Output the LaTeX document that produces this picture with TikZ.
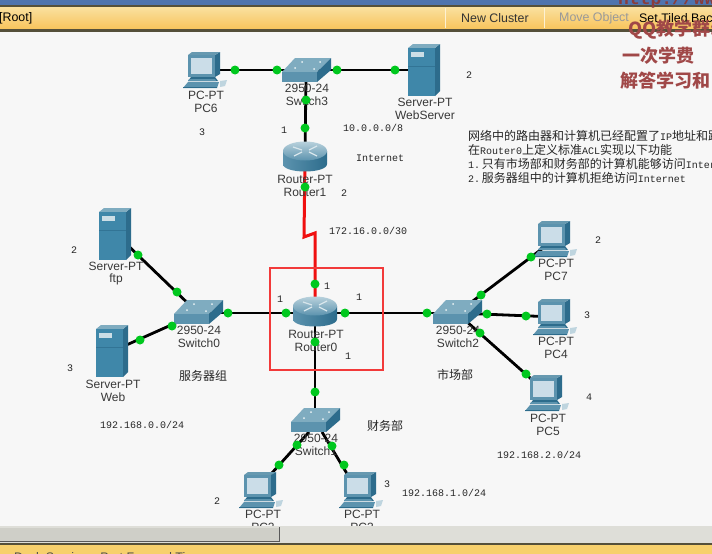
\documentclass[tikz,border=0pt]{standalone}
\usepackage{fontspec}
\setmainfont{Liberation Mono}
\newfontfamily\devf{Liberation Sans}
\newfontfamily\cjk{Noto Sans CJK SC}
\definecolor{canvasbg}{HTML}{F7F7F7}
\definecolor{barblue}{HTML}{4F74AE}
\definecolor{baryel}{HTML}{F7D06C}
\definecolor{barline}{HTML}{55503A}
\definecolor{trackc}{HTML}{DEDED8}
\definecolor{thumbc}{HTML}{CFCFC8}
\definecolor{fronte}{HTML}{5C93AE}
\definecolor{topf}{HTML}{7FACC0}
\definecolor{sidee}{HTML}{2D6C8C}
\definecolor{scr}{HTML}{CBDDE8}
\definecolor{srv}{HTML}{3F87A9}
\definecolor{dotg}{HTML}{00C81E}
\definecolor{redl}{HTML}{F01010}
\definecolor{boxr}{HTML}{F23A3A}
\definecolor{wm}{HTML}{A04848}
\tikzset{
  x=1pt,y=-1pt,
  anchorpt/.style={inner sep=0pt,minimum size=1pt,outer sep=0pt},
  lnk/.style={line width=2.8pt,black},
  serial/.style={line width=3pt,redl,line join=miter},
  portdot/.style={circle,fill=dotg,inner sep=0pt,minimum size=9pt},
  devlabel/.style={font=\devf\fontsize{12}{13}\selectfont,text=black!78,inner sep=0pt,align=center},
  note/.style={font=\fontsize{10}{12}\selectfont,text=black!85,inner sep=0pt},
  cjknote/.style={font=\cjk\fontsize{12}{12}\selectfont,text=black!85,inner sep=0pt},
  taskline/.style={font=\fontsize{10}{14}\selectfont,text=black!85,inner sep=0pt,anchor=west},
  barlabel/.style={font=\devf\fontsize{12.4}{13}\selectfont,inner sep=0pt},
  wmark/.style={font=\cjk\bfseries\fontsize{18}{20}\selectfont,inner sep=0pt,text=wm},
  pcicon/.pic={
    \fill[sidee] (10,-15)--(15,-18)--(15,4)--(10,7)--cycle;
    \fill[topf!70!sidee] (-17,-15)--(-13,-18)--(15,-18)--(10,-15)--cycle;
    \fill[fronte] (-17,-15) rectangle (10,7);
    \fill[scr] (-14,-12) rectangle (7,4);
    \fill[sidee] (-14,7)--(10,7)--(13,11)--(-17,11)--cycle;
    \fill[fronte] (-16,9)--(10,9)--(11,11)--(-17,11)--cycle;
    \fill[fronte] (-17,12)--(14,12)--(12,18)--(-22,18)--cycle;
    \fill[sidee] (-22,17)--(12,17)--(12,18)--(-22,18)--cycle;
    \fill[topf!50!white] (15,11)--(22,10)--(20,16)--(15,17)--cycle;
  },
  srvicon/.pic={
    \fill[sidee] (11,-22)--(16,-26)--(16,21)--(11,26)--cycle;
    \fill[topf] (-16,-22)--(-11,-26)--(16,-26)--(11,-22)--cycle;
    \fill[srv] (-16,-22) rectangle (11,26);
    \fill[topf!40!white] (-13,-18) rectangle (0,-13);
    \draw[sidee!70!srv,line width=.4pt] (-16,-4)--(11,-4);
  },
  swicon/.pic={
    \fill[topf] (-24,2)--(-11,-12)--(25,-12)--(11,2)--cycle;
    \fill[fronte] (-24,2) rectangle (11,12);
    \fill[sidee] (11,2)--(25,-12)--(25,0)--(11,12)--cycle;
    \fill[white!85!topf] (-11,-2) circle (1pt) (8,-1) circle (1pt) (-4,-8) circle (1pt) (14,-8) circle (1pt);
  },
  rticon/.pic={
    \shade[left color=fronte,middle color=scr!85!white,right color=sidee]
      (-22,-6)--(-22,7) .. controls (-22,17) and (22,17) .. (22,7)--(22,-6)--cycle;
    \shade[top color=topf!55!white,bottom color=fronte] (0,-6) ellipse [x radius=22pt,y radius=9.5pt];
    \draw[white!70!topf,line width=1.2pt] (-12,-10)--(-3,-7) (12,-11)--(4,-7) (-11,-1)--(-3,-5) (12,-1)--(4,-5);
  }
}
\begin{document}
\begin{tikzpicture}
\useasboundingbox (0,0) rectangle (712,554);
\clip (0,0) rectangle (712,554);
\fill[canvasbg] (0,0) rectangle (712,554);

% device anchors
\node[anchorpt] (pc6) at (205,70) {};
\node[anchorpt] (sw3) at (306,70) {};
\node[anchorpt] (websrv) at (424,70) {};
\node[anchorpt] (r1) at (305,157) {};
\node[anchorpt] (r0) at (315,313) {};
\node[anchorpt] (sw0) at (198,313) {};
\node[anchorpt] (ftp) at (116,234) {};
\node[anchorpt] (web) at (113,351) {};
\node[anchorpt] (sw2) at (457,313) {};
\node[anchorpt] (sw1) at (315,420) {};
\node[anchorpt] (pc2) at (262,490) {};
\node[anchorpt] (pc3) at (361,490) {};
\node[anchorpt] (pc7) at (555,239) {};
\node[anchorpt] (pc4) at (555,317) {};
\node[anchorpt] (pc5) at (547,393) {};
\coordinate (jogA) at (304,237);
\coordinate (jogB) at (315,233);
\coordinate (sw1l) at (309,432);
\coordinate (sw1r) at (322,432);
\coordinate (pc2p) at (262,484);
\coordinate (pc3p) at (352,482);
\coordinate (sw3b) at (306,78);

% connectors
\draw[lnk] (pc6.center)--(sw3.center);
\draw[lnk] (sw3.center)--(websrv.center);
\draw[lnk] (sw3b)--(r1.center);
\draw[lnk] (sw0.center)--(ftp.center);
\draw[lnk] (sw0.center)--(web.center);
\draw[lnk] (sw0.center)--(r0.center);
\draw[lnk] (r0.center)--(sw2.center);
\draw[lnk] (r0.center)--(sw1.center);
\draw[lnk] (sw2.center)--(pc7.center);
\draw[lnk] (sw2.center)--(pc4.center);
\draw[lnk] (sw2.center)--(pc5.center);
\draw[lnk] (sw1l)--(pc2p);
\draw[lnk] (sw1r)--(pc3p);
\draw[serial] (r1.center)--(jogA)--(jogB)--(r0.center);

% icons
\pic at (205,70) {pcicon};
\pic at (261,490) {pcicon};
\pic at (361,490) {pcicon};
\pic at (555,239) {pcicon};
\pic at (555,317) {pcicon};
\pic at (547,393) {pcicon};
\pic at (306,70) {swicon};
\pic at (198,312) {swicon};
\pic at (457,312) {swicon};
\pic at (315,420) {swicon};
\pic at (424,70) {srvicon};
\pic at (115,234) {srvicon};
\pic at (112,351) {srvicon};
\pic at (305,157) {rticon};
\pic at (315,312) {rticon};

% device labels
\node[devlabel] (lpc6a) at (206,95) {PC-PT};
\node[devlabel] (lpc6b) at (206,108) {PC6};
\node[devlabel] (lsw3a) at (307,88) {2950-24};
\node[devlabel] (lsw3b) at (307,101) {Switch3};
\node[devlabel] (lwsa) at (425,102) {Server-PT};
\node[devlabel] (lwsb) at (425,115) {WebServer};
\node[devlabel] (lr1a) at (305,179) {Router-PT};
\node[devlabel] (lr1b) at (305,192) {Router1};
\node[devlabel] (lr0a) at (316,334) {Router-PT};
\node[devlabel] (lr0b) at (316,347) {Router0};
\node[devlabel] (lsw0a) at (199,330) {2950-24};
\node[devlabel] (lsw0b) at (199,343) {Switch0};
\node[devlabel] (lftpa) at (116,266) {Server-PT};
\node[devlabel] (lftpb) at (116,279) {ftp};
\node[devlabel] (lweba) at (113,384) {Server-PT};
\node[devlabel] (lwebb) at (113,397) {Web};
\node[devlabel] (lsw2a) at (458,330) {2950-24};
\node[devlabel] (lsw2b) at (458,343) {Switch2};
\node[devlabel] (lsw1a) at (316,438) {2950-24};
\node[devlabel] (lsw1b) at (316,451) {Switch1};
\node[devlabel] (lpc2a) at (263,514) {PC-PT};
\node[devlabel] (lpc2b) at (263,527) {PC2};
\node[devlabel] (lpc3a) at (362,514) {PC-PT};
\node[devlabel] (lpc3b) at (362,527) {PC3};
\node[devlabel] (lpc7a) at (556,263) {PC-PT};
\node[devlabel] (lpc7b) at (556,276) {PC7};
\node[devlabel] (lpc4a) at (556,341) {PC-PT};
\node[devlabel] (lpc4b) at (556,354) {PC4};
\node[devlabel] (lpc5a) at (548,418) {PC-PT};
\node[devlabel] (lpc5b) at (548,431) {PC5};

% port dots
\foreach \i/\p in {1/{235,70},2/{277,70},3/{337,70},4/{395,70},5/{306,100},6/{305,128},
  7/{305,187},8/{315,284},9/{286,313},10/{345,313},11/{315,342},12/{315,392},13/{228,313},
  14/{138,255},15/{177,292},16/{172,326},17/{140,340},18/{427,313},19/{481,295},20/{531,257},
  21/{487,314},22/{526,316},23/{480,333},24/{526,374},25/{297,445},26/{332,446},27/{279,465},28/{344,465}}
  \node[portdot,name=dot\i] at (\p) {};

% notes
\node[note] (n1) at (202,132) {3};
\node[note] (n2) at (284,130) {1};
\node[note,anchor=west] (n3) at (343,128) {10.0.0.0/8};
\node[note,anchor=west] (n4) at (356,158) {Internet};
\node[note] (n5) at (344,193) {2};
\node[note,anchor=west] (n6) at (329,231) {172.16.0.0/30};
\node[note] (n7) at (469,75) {2};
\node[note] (n8) at (74,250) {2};
\node[note] (n9) at (70,368) {3};
\node[note,anchor=west] (n10) at (100,425) {192.168.0.0/24};
\node[note] (n11) at (280,299) {1};
\node[note] (n12) at (359,297) {1};
\node[note] (n13) at (348,356) {1};
\node[note] (n14) at (327,286) {1};
\node[note] (n15) at (387,484) {3};
\node[note] (n16) at (217,501) {2};
\node[note,anchor=west] (n17) at (402,493) {192.168.1.0/24};
\node[note] (n18) at (598,240) {2};
\node[note] (n19) at (587,315) {3};
\node[note] (n20) at (589,397) {4};
\node[note,anchor=west] (n21) at (497,455) {192.168.2.0/24};
\node[cjknote] (c1) at (203,376) {服务器组};
\node[cjknote] (c2) at (455,375) {市场部};
\node[cjknote] (c3) at (385,426) {财务部};
\node[taskline] (t1) at (468,136) {{\cjk\fontsize{12}{14}\selectfont 网络中的路由器和计算机已经配置了}IP{\cjk\fontsize{12}{14}\selectfont 地址和路}};
\node[taskline] (t2) at (468,150) {{\cjk\fontsize{12}{14}\selectfont 在}Router0{\cjk\fontsize{12}{14}\selectfont 上定义标准}ACL{\cjk\fontsize{12}{14}\selectfont 实现以下功能}};
\node[taskline] (t3) at (468,164) {1.\,{\cjk\fontsize{12}{14}\selectfont 只有市场部和财务部的计算机能够访问}Inter};
\node[taskline] (t4) at (468,178) {2.\,{\cjk\fontsize{12}{14}\selectfont 服务器组中的计算机拒绝访问}Internet};

% highlight box
\draw[boxr,line width=2.4pt] (270,268) rectangle (383,370);

% top toolbar
\fill[barblue] (0,0) rectangle (712,5);
\fill[barline] (0,5) rectangle (712,7);
\shade[top color=baryel!65!white,bottom color=baryel!85!orange] (0,7) rectangle (712,29);
\fill[barline] (0,29) rectangle (712,32);
\draw[white!70!baryel,line width=1pt] (445,8)--(445,28) (544,8)--(544,28);
\node[barlabel,anchor=west] (root) at (-1,18) {[Root]};
\node[barlabel,anchor=west,text=black!80] (newc) at (461,18) {New Cluster};
\node[barlabel,anchor=west,text=black!40] (movo) at (559,18) {Move Object};
\node[barlabel,anchor=west] (setb) at (639,18) {Set Tiled Bac};

% bottom bars
\fill[trackc] (0,526) rectangle (712,544);
\fill[thumbc] (0,528) rectangle (279,541);
\draw[black!65,line width=1pt] (0,541.5)--(279.5,541.5)--(279.5,527);
\fill[barline] (0,543) rectangle (712,545);
\fill[baryel] (0,545) rectangle (712,554);
\node[barlabel,anchor=west,text=black!70] (dockb) at (14,557) {Dock Services \ Port Forward Time};

% watermark
\node[wmark,font=\fontsize{18}{20}\selectfont\bfseries,text=wm!85!black,anchor=base west] (wm0) at (618,5) {http://www.};
\node[wmark,anchor=west] (wm1) at (628,30) {QQ教学群:};
\node[wmark,anchor=west] (wm2) at (622,56) {一次学费};
\node[wmark,anchor=west] (wm3) at (620,81) {解答学习和};
\end{tikzpicture}
\end{document}
